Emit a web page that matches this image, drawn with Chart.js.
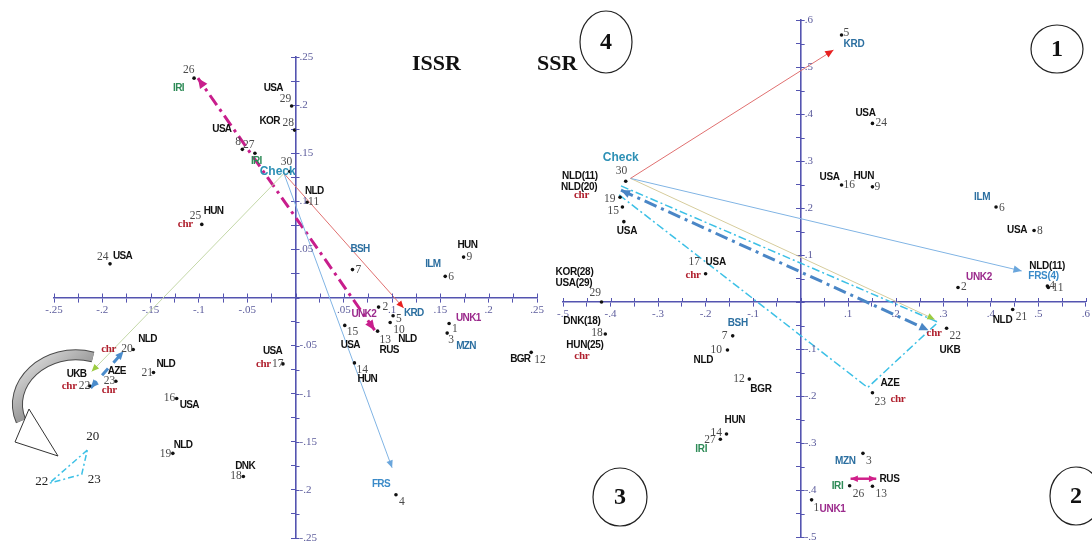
<!DOCTYPE html>
<html><head><meta charset="utf-8">
<script src="https://cdn.jsdelivr.net/npm/chart.js@4.4.1/dist/chart.umd.min.js"></script>
<style>
html,body{margin:0;padding:0;background:#fff;}
#wrap{position:relative;width:1092px;height:543px;overflow:hidden;background:#fff}
canvas{position:absolute;left:0;top:0}
</style></head>
<body><div id="wrap"><canvas id="issr" width="1092" height="543"></canvas><canvas id="ssr" width="1092" height="543"></canvas></div>
<script>
// ================= DATA: ISSR (left biplot) =================
const issrIds = ['1','2','3','4','5','6','7','8','9','10','11','12','13','14','15','16','17','18','19','20','21','22','23','24','25','26','27','28','29','30'];
const issrX = [0.159,0.086,0.157,0.104,0.101,0.155,0.059,-0.055,0.174,0.098,0.012,0.244,0.085,0.061,0.051,-0.123,-0.013,-0.054,-0.127,-0.168,-0.147,-0.213,-0.186,-0.192,-0.097,-0.105,-0.042,-0.001,-0.004,-0.006];
const issrY = [-0.027,-0.010,-0.037,-0.205,-0.019,0.022,0.029,0.154,0.042,-0.026,0.099,-0.057,-0.035,-0.068,-0.029,-0.105,-0.069,-0.186,-0.162,-0.054,-0.078,-0.092,-0.087,0.035,0.076,0.228,0.150,0.174,0.199,0.131];
const issrCountry = ['UNK1','UNK2','MZN','FRS','KRD','ILM','BSH','USA','HUN','NLD','NLD','BGR','RUS','HUN','USA','USA','USA','DNK','NLD','NLD','NLD','UKB','AZE','USA','HUN','IRI','IRI','KOR','USA','Check'];
const issrChr = ['17','20','22','23','25'];
const issrTickLabels = ['-.25','-.2','-.15','-.1','-.05','.05','.1','.15','.2','.25'];
// vectors: Check->KRD, Check->FRS, Check->UKB, RUS<->IRI, UKB<->NLD
const issrVecX0 = [-0.012,-0.012,-0.012,0.082,-0.212];
const issrVecY0 = [0.129,0.129,0.129,-0.034,-0.094];
const issrVecX1 = [0.112,0.100,-0.211,-0.101,-0.178];
const issrVecY1 = [-0.011,-0.177,-0.077,0.228,-0.056];
// magnified inset triangle (20, 22, 23)
const issrInsetLabels = ['20','22','23'];
const issrInsetX = [-0.2155,-0.2549,-0.2213];
const issrInsetY = [-0.1586,-0.1931,-0.1838];

// ================= DATA: SSR (right biplot) =================
const ssrIds = ['1','2','3','4','5','6','7','8','9','10','11','12','13','14','15','16','17','18','19','21','22','23','24','26','27','29','30',''];
const ssrX = [0.023,0.331,0.131,0.519,0.086,0.411,-0.143,0.491,0.151,-0.154,0.521,-0.108,0.151,-0.156,-0.375,0.086,-0.200,-0.411,-0.380,0.446,0.307,0.151,0.151,0.103,-0.169,-0.419,-0.368,-0.372];
const ssrY = [-0.421,0.031,-0.322,0.034,0.568,0.202,-0.072,0.152,0.245,-0.102,0.031,-0.164,-0.392,-0.281,0.202,0.249,0.060,-0.068,0.223,-0.016,-0.056,-0.193,0.380,-0.391,-0.292,0.000,0.257,0.171];
const ssrCountry = ['UNK1','UNK2','MZN','FRS(4)','KRD','ILM','BSH','USA','HUN','NLD','NLD(11)','BGR','RUS','HUN','','USA','USA','DNK(18)|HUN(25)','NLD(11)|NLD(20)','NLD','UKB','AZE','USA','IRI','IRI','KOR(28)|USA(29)','Check','USA'];
const ssrChr = ['17','18','19','22','23'];
const ssrTickLabels = ['-.5','-.4','-.3','-.2','-.1','.1','.2','.3','.4','.5','.6'];
// vectors: Check->KRD, Check->FRS(4), Check->UKB, blue dashed, cyan dash-dot, IRI<->RUS
const ssrVecX0 = [-0.358,-0.358,-0.358,-0.378,-0.378,0.105];
const ssrVecY0 = [0.263,0.263,0.263,0.238,0.247,-0.376];
const ssrVecX1 = [0.069,0.465,0.282,0.269,0.289,0.159];
const ssrVecY1 = [0.536,0.066,-0.037,-0.060,-0.043,-0.376];
// cyan path Check -> AZE -> UKB
const ssrPathX = [-0.382,0.141,0.289];
const ssrPathY = [0.228,-0.182,-0.043];

// ================= STYLE =================
const AXIS_COLOR = '#5454b0';
const TICK_COLOR = '#5c5c9c';
const NUM_FONT = '11.5px "Liberation Serif", serif';
const NUM_COLOR = '#4a4a4a';
const COLORS = {blue:'#2c6fa0', lblue:'#3a8ac8', purple:'#9b2a8c', green:'#2e8b57', teal:'#2d90b5', chr:'#b0202e', black:'#111'};

const issrVecStyle = [
  {color:'#e07070', width:1, arrow:'end', head:'#e82020', size:8},
  {color:'#80b4e4', width:1, arrow:'end', head:'#6aa6dc', size:8},
  {color:'#c4d8a8', width:1, arrow:'end', head:'#9ccc40', size:8},
  {color:'#c81e8c', width:3, dash:[12,5,3,5], arrow:'both', head:'#c81e8c', size:11},
  {color:'#4a8ccc', width:3, dash:[9,8], arrow:'both', head:'#4a8ccc', size:9}
];
const ssrVecStyle = [
  {color:'#e07070', width:1, arrow:'end', head:'#e82020', size:9},
  {color:'#80b4e4', width:1, arrow:'end', head:'#6aa6dc', size:9},
  {color:'#d6cc9c', width:1, arrow:'end', head:'#9ccc40', size:8},
  {color:'#4a86c6', width:3, dash:[13,5,3,5], arrow:'both', head:'#4a86c6', size:10},
  {color:'#3cc0e6', width:1.5, dash:[8,3,2,3], arrow:'none'},
  {color:'#d0208a', width:2.5, arrow:'both', head:'#d0208a', size:8}
];
// label offsets (px) relative to each point: [number, country labels..., chr]
const issrOffsets = [
 [[3,6],[7,-5]],[[4,0],[-27,7]],[[1,7],[9,13]],[[3,7],[-24,-10]],[[3,3],[11,-3]],
 [[3,1],[-20,-12]],[[3,0],[-2,-20]],[[-7,-7],[-30,-20]],[[3,0],[-6,-12]],[[3,7],[8,17]],
 [[1,0],[-2,-11]],[[3,8],[-21,7]],[[2,9],[2,19]],[[2,7],[3,16]],[[2,7],[-4,20]],
 [[-13,-1],[3,7]],[[-11,0],[-20,-13],[-27,0]],[[-13,0],[-8,-10]],[[-13,1],[1,-8]],[[-12,0],[5,-10],[-32,0]],
 [[-12,0],[3,-8]],[[-11,0],[-23,-12],[-28,0]],[[-12,0],[-8,-10],[-14,9]],[[-13,-7],[3,-8]],[[-12,-8],[2,-13],[-24,0]],
 [[-11,-8],[-21,10]],[[-12,-8],[-4,8]],[[-12,-7],[-35,-9]],[[-12,-7],[-28,-18]],[[-9,-9],[-30,0]]
];
const ssrOffsets = [
 [[2,8],[8,9]],[[3,0],[8,-10]],[[3,8],[-28,8]],[[2,0],[-19,-10]],[[2,-2],[2,9]],
 [[3,1],[-22,-10]],[[-11,0],[-5,-13]],[[3,0],[-27,0]],[[2,0],[-19,-11]],[[-17,0],[-34,10]],
 [[4,1],[-19,-21]],[[-16,0],[1,10]],[[3,8],[7,-7]],[[-16,-1],[-2,-14]],[[-15,4]],
 [[2,0],[-22,-8]],[[-17,-12],[0,-12],[-20,1]],[[-14,-1],[-42,-13],[-39,11],[-31,22]],
 [[-16,2],[-58,-21],[-59,-10],[-46,-2]],[[3,7],[-20,11]],[[3,8],[-7,22],[-20,5]],
 [[2,9],[8,-9],[18,6]],[[3,0],[-17,-10]],[[3,8],[-18,0]],[[-16,1],[-25,10]],
 [[-12,-9],[-46,-30],[-46,-19]],[[-10,-10],[-23,-24]],[[0,0],[-7,10]]
];

function labelColor(t){
  if (t.startsWith('UNK')) return COLORS.purple;
  if (t.startsWith('FRS')) return COLORS.lblue;
  if (['MZN','KRD','ILM','BSH'].includes(t)) return COLORS.blue;
  if (t === 'IRI') return COLORS.green;
  if (t === 'Check') return COLORS.teal;
  return COLORS.black;
}
function tickCb(labels){
  return function(v){
    for (const l of labels){ if (Math.abs(parseFloat(l) - v) < 1e-6) return l; }
    return '';
  };
}
function axisCfg(min, max, step, isX, labels){
  return {
    type:'linear', min:min, max:max,
    position: isX ? {y:0} : {x:0},
    afterFit: function(s){ if (isX) s.height = 0; else s.width = 0; },
    grid:{drawOnChartArea:false, drawTicks:true, tickLength:4, tickWidth:1, tickColor:AXIS_COLOR, color:AXIS_COLOR},
    border:{display:true, color:AXIS_COLOR, width:1.6},
    ticks:{display:isX, stepSize:step, autoSkip:false, maxRotation:0, minRotation:0, padding:2,
      color:TICK_COLOR, font:{family:'Liberation Serif', size:11}, callback:tickCb(labels)}
  };
}
function vecDatasets(x0,y0,x1,y1,styles){
  return x0.map(function(_,i){
    const s = styles[i];
    return {data:[{x:x0[i],y:y0[i]},{x:x1[i],y:y1[i]}], showLine:true, pointRadius:0, borderColor:s.color,
      borderWidth:s.width, borderDash:s.dash||[], fill:false, clip:false, tension:0,
      arrow:s.arrow, headColor:s.head, headSize:s.size||8};
  });
}
function pointDataset(xs, ys){
  return {data:xs.map(function(x,i){return {x:x, y:ys[i]};}), showLine:false, pointRadius:1.8,
    pointBackgroundColor:'#111', pointBorderWidth:0, clip:false};
}
function txt(ctx, s, x, y, font, color, spacing, align){
  ctx.font = font; ctx.fillStyle = color; ctx.textAlign = align||'left'; ctx.textBaseline = 'middle';
  ctx.letterSpacing = spacing || '0px';
  ctx.fillText(s, x, y);
  ctx.letterSpacing = '0px';
}
function head(ctx, x1,y1,x2,y2,size,color){
  const a = Math.atan2(y2-y1, x2-x1);
  ctx.beginPath(); ctx.moveTo(x2,y2);
  ctx.lineTo(x2 - size*Math.cos(a-0.42), y2 - size*Math.sin(a-0.42));
  ctx.lineTo(x2 - size*Math.cos(a+0.42), y2 - size*Math.sin(a+0.42));
  ctx.closePath(); ctx.fillStyle = color; ctx.fill();
}
function panelPlugin(cfg){
  return {id:'panel', afterDraw:function(chart){
    const ctx = chart.ctx, xs = chart.scales.x, ys = chart.scales.y;
    const ax = xs.getPixelForValue(0), ay = ys.getPixelForValue(0);
    ctx.save();
    // second half of the crossing tick marks
    ctx.strokeStyle = AXIS_COLOR; ctx.lineWidth = 1; ctx.setLineDash([]);
    xs.ticks.forEach(function(t){ const p = Math.round(xs.getPixelForValue(t.value))+0.5; ctx.beginPath(); ctx.moveTo(p, ay); ctx.lineTo(p, ay-4); ctx.stroke(); });
    ys.ticks.forEach(function(t){ const p = Math.round(ys.getPixelForValue(t.value))+0.5; ctx.beginPath(); ctx.moveTo(ax, p); ctx.lineTo(ax+4, p); ctx.stroke(); });
    // y tick labels, right of the vertical axis
    const yl = tickCb(cfg.tickLabels);
    ys.ticks.forEach(function(t){ const l = yl(t.value); if (l) txt(ctx, l, ax+4, ys.getPixelForValue(t.value), '11px "Liberation Serif", serif', TICK_COLOR); });
    // arrow heads
    chart.data.datasets.forEach(function(ds, i){
      if (!ds.arrow || ds.arrow === 'none') return;
      const pts = chart.getDatasetMeta(i).data; const n = pts.length;
      if (ds.arrow === 'end' || ds.arrow === 'both') head(ctx, pts[n-2].x, pts[n-2].y, pts[n-1].x, pts[n-1].y, ds.headSize, ds.headColor);
      if (ds.arrow === 'both') head(ctx, pts[1].x, pts[1].y, pts[0].x, pts[0].y, ds.headSize, ds.headColor);
    });
    // point labels
    cfg.ids.forEach(function(id, i){
      const px = xs.getPixelForValue(cfg.xs[i]), py = ys.getPixelForValue(cfg.ys[i]);
      const off = cfg.offsets[i]; let k = 1;
      if (id !== '') txt(ctx, id, px+off[0][0], py+off[0][1], NUM_FONT, NUM_COLOR);
      const cs = cfg.countries[i] ? cfg.countries[i].split('|') : [];
      cs.forEach(function(c){
        const o = off[k++]; if (!o) return;
        const f = c === 'Check' ? 'bold 12px "Liberation Sans", Arial, sans-serif' : cfg.ctryFont;
        txt(ctx, c, px+o[0], py+o[1], f, labelColor(c), c === 'Check' ? '0px' : cfg.ctrySpacing);
      });
      if (cfg.chr.includes(id)) { const o = off[k++]; if (o) txt(ctx, 'chr', px+o[0], py+o[1], 'bold 11px "Liberation Serif", serif', COLORS.chr, '-0.3px'); }
    });
    if (cfg.extra) cfg.extra(chart, ctx);
    ctx.restore();
  }};
}
function ellipseNum(ctx, cx, cy, rx, ry, s){
  ctx.beginPath(); ctx.ellipse(cx, cy, rx, ry, 0, 0, Math.PI*2);
  ctx.lineWidth = 1.2; ctx.strokeStyle = '#222'; ctx.setLineDash([]); ctx.stroke();
  txt(ctx, s, cx, cy+1, 'bold 24px "Liberation Serif", serif', '#111', '0px', 'center');
}

// ================= LEFT CHART (ISSR) =================
const issrDatasets = [pointDataset(issrX, issrY)]
  .concat(vecDatasets(issrVecX0, issrVecY0, issrVecX1, issrVecY1, issrVecStyle))
  .concat([{data:[0,1,2,0].map(function(j){return {x:issrInsetX[j], y:issrInsetY[j]};}), showLine:true, pointRadius:0,
    borderColor:'#3cc0e6', borderWidth:1.5, borderDash:[6,3,2,3], fill:false, clip:false, tension:0}]);

new Chart(document.getElementById('issr'), {
  type:'scatter',
  data:{datasets:issrDatasets},
  options:{
    responsive:false, animation:false, devicePixelRatio:1, events:[],
    layout:{autoPadding:false, padding:{left:54, right:555, top:57, bottom:5}},
    plugins:{legend:{display:false}, tooltip:{enabled:false}},
    scales:{x:axisCfg(-0.25, 0.25, 0.025, true, issrTickLabels), y:axisCfg(-0.25, 0.25, 0.025, false, issrTickLabels)}
  },
  plugins:[panelPlugin({ids:issrIds, xs:issrX, ys:issrY, countries:issrCountry, chr:issrChr, offsets:issrOffsets,
    tickLabels:issrTickLabels, ctryFont:'bold 10px "Liberation Sans", Arial, sans-serif', ctrySpacing:'-0.7px',
    extra:function(chart, ctx){
      const xs = chart.scales.x, ys = chart.scales.y;
      // inset numbers
      const io = [[-1,-13],[-14,-2],[6,5]];
      issrInsetLabels.forEach(function(l, j){
        txt(ctx, l, xs.getPixelForValue(issrInsetX[j])+io[j][0], ys.getPixelForValue(issrInsetY[j])+io[j][1], '13px "Liberation Serif", serif', '#222');
      });
      // curved magnifying arrow
      ctx.beginPath(); ctx.moveTo(93,357); ctx.bezierCurveTo(45,345,5,385,21,421);
      ctx.lineCap = 'butt'; ctx.setLineDash([]);
      ctx.lineWidth = 11; ctx.strokeStyle = '#4a4a4a'; ctx.stroke();
      const g = ctx.createLinearGradient(20,350,60,400); g.addColorStop(0,'#ededed'); g.addColorStop(1,'#8c8c8c');
      ctx.lineWidth = 9; ctx.strokeStyle = g; ctx.stroke();
      ctx.beginPath(); ctx.moveTo(15,442); ctx.lineTo(29,409); ctx.lineTo(58,456); ctx.closePath();
      ctx.fillStyle = '#fff'; ctx.fill(); ctx.lineWidth = 1; ctx.strokeStyle = '#333'; ctx.stroke();
      // title
      txt(ctx, 'ISSR', 412, 64, 'bold 22px "Liberation Serif", serif', '#111');
    }})]
});

// ================= RIGHT CHART (SSR) =================
const ssrDatasets = [pointDataset(ssrX, ssrY)]
  .concat(vecDatasets(ssrVecX0, ssrVecY0, ssrVecX1, ssrVecY1, ssrVecStyle))
  .concat([{data:ssrPathX.map(function(x,j){return {x:x, y:ssrPathY[j]};}), showLine:true, pointRadius:0,
    borderColor:'#3cc0e6', borderWidth:1.5, borderDash:[8,3,2,3], fill:false, clip:false, tension:0}]);

new Chart(document.getElementById('ssr'), {
  type:'scatter',
  data:{datasets:ssrDatasets},
  options:{
    responsive:false, animation:false, devicePixelRatio:1, events:[],
    layout:{autoPadding:false, padding:{left:563, right:-3, top:20, bottom:6}},
    plugins:{legend:{display:false}, tooltip:{enabled:false}},
    scales:{x:axisCfg(-0.5, 0.6, 0.05, true, ssrTickLabels), y:axisCfg(-0.5, 0.6, 0.05, false, ssrTickLabels)}
  },
  plugins:[panelPlugin({ids:ssrIds, xs:ssrX, ys:ssrY, countries:ssrCountry, chr:ssrChr, offsets:ssrOffsets,
    tickLabels:ssrTickLabels, ctryFont:'bold 10px "Liberation Sans", Arial, sans-serif', ctrySpacing:'-0.3px',
    extra:function(chart, ctx){
      txt(ctx, 'SSR', 537, 64, 'bold 22px "Liberation Serif", serif', '#111');
      ellipseNum(ctx, 606, 42, 26, 31, '4');
      ellipseNum(ctx, 1057, 49, 26, 24, '1');
      ellipseNum(ctx, 620, 497, 27, 29, '3');
      ellipseNum(ctx, 1076, 496, 26, 29, '2');
    }})]
});
</script></body></html>
